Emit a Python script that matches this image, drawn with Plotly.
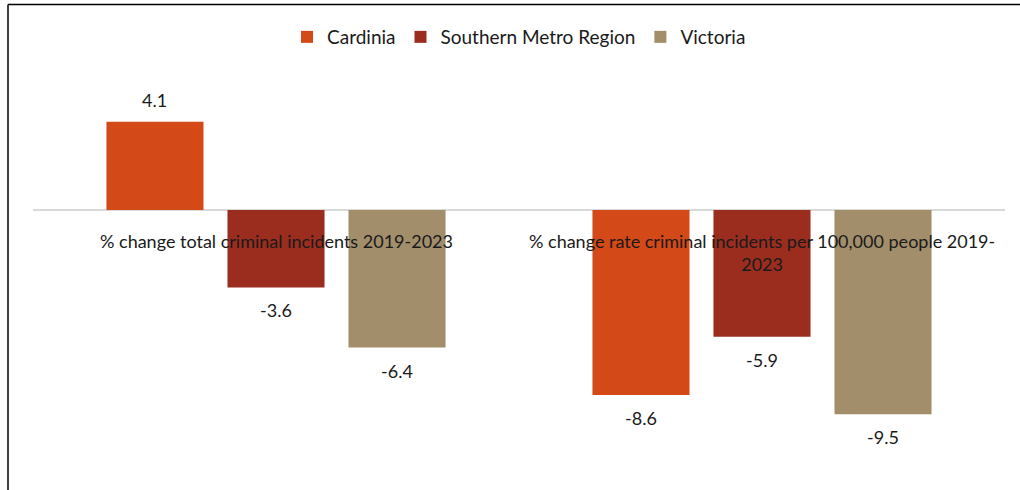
import plotly.graph_objects as go

categories = [
    "% change total criminal incidents 2019-2023",
    "% change rate criminal incidents per 100,000 people 2019-<br>2023",
]
series_names = ["Cardinia", "Southern Metro Region", "Victoria"]
cardinia = [4.1, -8.6]
southern_metro = [-3.6, -5.9]
victoria = [-6.4, -9.5]
colors = ["#D34917", "#9B2D1F", "#A28E6A"]

W, H = 1020, 490
ML, MR, MT, MB = 33, 15, 81, 22
BARGAP = 0.253
BARGROUPGAP = 0.198
FONT = "Lato"
TEXT = "#1a1a1a"

xpos = list(range(len(categories)))
values = [cardinia, southern_metro, victoria]

fig = go.Figure()
for name, vals, col in zip(series_names, values, colors):
    fig.add_trace(go.Bar(
        name=name, x=xpos, y=vals, marker=dict(color=col, line=dict(width=0)),
    ))

# data labels just outside each bar end
n = len(series_names)
slot = (1 - BARGAP) / n
annotations = []
for j, vals in enumerate(values):
    off = (j - (n - 1) / 2) * slot
    for i, v in enumerate(vals):
        annotations.append(dict(
            x=i + off, y=v, xref="x", yref="y", text=f"{v:.1f}",
            showarrow=False, yanchor="middle", yshift=22 if v >= 0 else -23,
            font=dict(family=FONT, size=18, color=TEXT),
        ))

# category labels hanging from the zero line
for i, c in enumerate(categories):
    annotations.append(dict(
        x=i, y=0, xref="x", yref="y", text=c, showarrow=False,
        yanchor="top", yshift=-18, align="center",
        font=dict(family=FONT, size=18, color=TEXT),
    ))

pw = W - ML - MR
ph = H - MT - MB
bx0 = (8 - ML) / pw
by_top = 1 + (MT - 4.5) / ph
by_bot = -MB / ph - 0.01
shapes = [
    dict(type="line", xref="paper", yref="paper", x0=bx0, x1=1 + MR / pw + 0.01,
         y0=by_top, y1=by_top, line=dict(color="#000000", width=1.5)),
    dict(type="line", xref="paper", yref="paper", x0=bx0, x1=bx0,
         y0=by_top, y1=by_bot, line=dict(color="#000000", width=1.5)),
]

fig.update_layout(
    width=W, height=H,
    margin=dict(l=ML, r=MR, t=MT, b=MB),
    paper_bgcolor="white", plot_bgcolor="white",
    barmode="group", bargap=BARGAP, bargroupgap=BARGROUPGAP,
    showlegend=True,
    legend=dict(orientation="h", x=0.5, xanchor="center", y=1 + (MT - 37) / ph,
                yanchor="middle", font=dict(family=FONT, size=19, color=TEXT),
                itemwidth=30, traceorder="normal"),
    xaxis=dict(range=[-0.5, 1.5], showticklabels=False, showgrid=False,
               zeroline=False, showline=False),
    yaxis=dict(range=[-12, 6], showticklabels=False, showgrid=False,
               zeroline=True, zerolinecolor="#d9d9d9", zerolinewidth=1.5,
               showline=False),
    annotations=annotations,
    shapes=shapes,
    font=dict(family=FONT),
)

fig.write_html("out.html")
